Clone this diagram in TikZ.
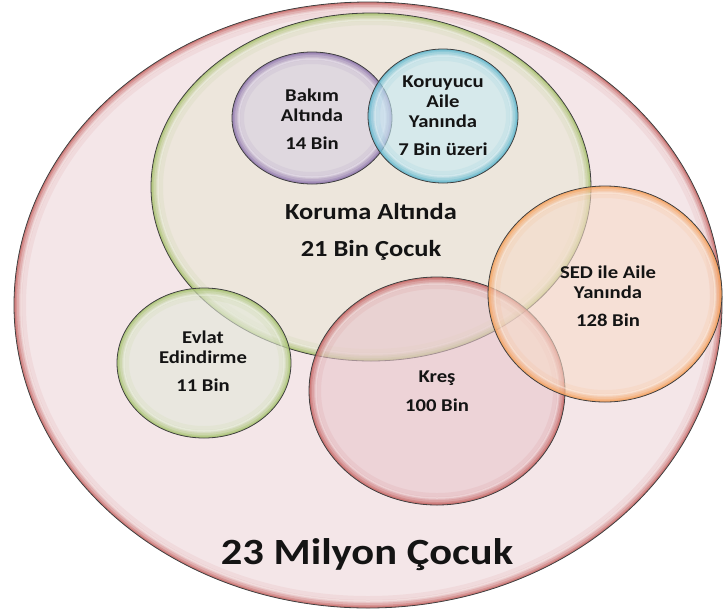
\documentclass[tikz,border=0pt]{standalone}
\usepackage{fontspec}
\setmainfont{Carlito}[FakeStretch=1.15]
\definecolor{toplamin}{HTML}{EDD5D9}
\definecolor{toplamrim}{HTML}{C0504D}
\definecolor{korumain}{HTML}{E8E6D4}
\definecolor{korumarim}{HTML}{9BBB59}
\definecolor{bakimin}{HTML}{D7CFE3}
\definecolor{bakimrim}{HTML}{8064A2}
\definecolor{koruyucuin}{HTML}{C7EBF7}
\definecolor{koruyucurim}{HTML}{4BACC6}
\definecolor{evlatin}{HTML}{E3E9D9}
\definecolor{evlatrim}{HTML}{9BBB59}
\definecolor{kresin}{HTML}{E8C6CC}
\definecolor{kresrim}{HTML}{C0504D}
\definecolor{sedin}{HTML}{F7DCCA}
\definecolor{sedrim}{HTML}{F79646}

\begin{document}
\begin{tikzpicture}[
    x=1pt, y=-1pt,
    edge/.style={draw=black!75, line width=.8pt},
    lbl/.style={font=\bfseries\fontsize{18}{20}\selectfont, align=center, text=black!92},
    biglbl/.style={font=\bfseries\fontsize{23}{25}\selectfont, align=center, text=black!92}
    ]
   \useasboundingbox (0,0) rectangle (723,614);

   % glassy circles, back to front
   \foreach \cx/\cy/\rx/\ry/\inn/\rim in {
       368/305/354/303/toplamin/toplamrim,
       371/187/220/174/korumain/korumarim,
       312/118/80/66/bakimin/bakimrim,
       443/116/75/67/koruyucuin/koruyucurim,
       204/363/87/75/evlatin/evlatrim,
       437/391/128/114/kresin/kresrim,
       605/294/117/108/sedin/sedrim}{
      \fill[\inn, fill opacity=.6] (\cx,\cy) ellipse [x radius=\rx, y radius=\ry];
      \begin{scope}
         \clip (\cx,\cy) ellipse [x radius=\rx, y radius=\ry];
         \foreach \w/\o in {24/.08, 16/.12, 10/.2, 6/.28, 3/.4}
            \draw[\rim, line width=\w pt, opacity=\o] (\cx,\cy) ellipse [x radius=\rx, y radius=\ry];
         % soft highlight
         \draw[white, line width=1.5pt, opacity=.35] (\cx,\cy) ellipse [x radius=\rx-7, y radius=\ry-7];
      \end{scope}
      \draw[edge] (\cx,\cy) ellipse [x radius=\rx, y radius=\ry];
   }

   \node[lbl] (bakim) at (312,119) {Bakım\\Altında\\[8pt]14 Bin};
   \node[lbl] (koruyucu) at (443,116) {Koruyucu\\Aile\\Yanında\\[8pt]7 Bin üzeri};
   \node[biglbl] (koruma) at (371,232) {Koruma Altında\\[12pt]21 Bin Çocuk};
   \node[lbl] (evlat) at (203,361) {Evlat\\Edindirme\\[8pt]11 Bin};
   \node[lbl] (kres) at (437,391) {Kreş\\[9pt]100 Bin};
   \node[lbl] (sed) at (608,296) {SED ile Aile\\Yanında\\[8pt]128 Bin};
   \node[font=\bfseries\fontsize{37}{40}\selectfont, text=black!92] (toplam) at (367,555) {23 Milyon Çocuk};
\end{tikzpicture}
\end{document}
